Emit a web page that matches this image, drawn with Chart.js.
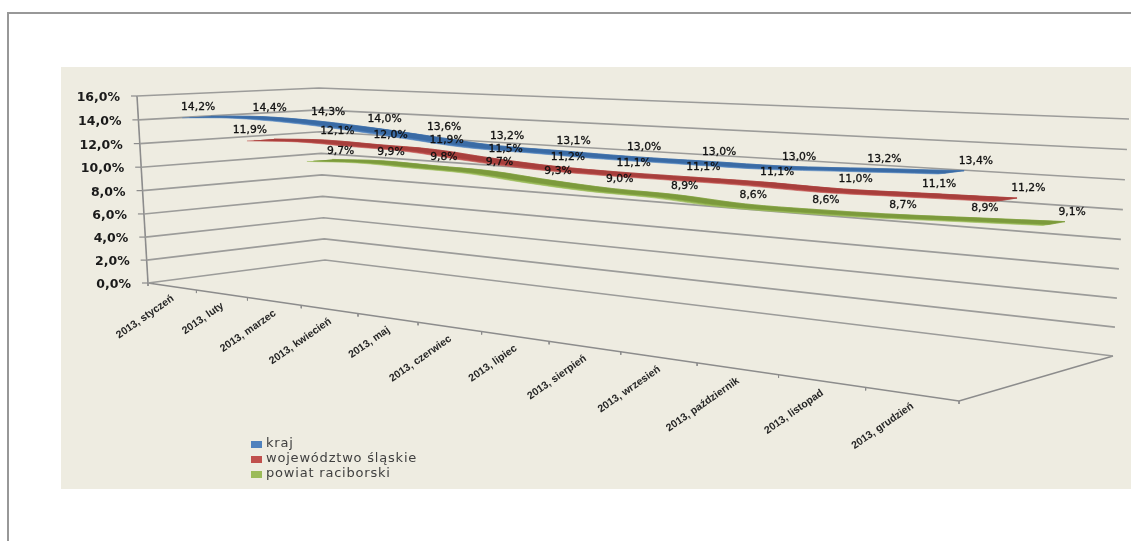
<!DOCTYPE html>
<html>
<head>
<meta charset="utf-8">
<script src="https://cdn.jsdelivr.net/npm/chart.js@4"></script>
<style>
    html, body { margin: 0; background: #fff; overflow: hidden; }
    #frame { position: absolute; left: 7px; top: 12px; right: 0; bottom: 0; border-top: 2px solid #989898; border-left: 2px solid #989898; }
    #panel { position: absolute; left: 61px; top: 67px; width: 1070px; height: 422px; background: #eeece1; }
    #chart { position: absolute; left: 0; top: 0; filter: blur(0.45px); }
</style>
</head>
<body>
<div id="frame"></div>
<div id="panel"></div>
<canvas id="chart" width="1131" height="541"></canvas>
<script>
    var categories = ["2013, styczeń", "2013, luty", "2013, marzec", "2013, kwiecień", "2013, maj", "2013, czerwiec",
        "2013, lipiec", "2013, sierpień", "2013, wrzesień", "2013, październik", "2013, listopad", "2013, grudzień"];
    var krajValues = [14.2, 14.4, 14.3, 14.0, 13.6, 13.2, 13.1, 13.0, 13.0, 13.0, 13.2, 13.4];
    var slaskieValues = [11.9, 12.1, 12.0, 11.9, 11.5, 11.2, 11.1, 11.1, 11.1, 11.0, 11.1, 11.2];
    var raciborskiValues = [9.7, 9.9, 9.8, 9.7, 9.3, 9.0, 8.9, 8.6, 8.6, 8.7, 8.9, 9.1];
    var seriesNames = ["kraj", "województwo śląskie", "powiat raciborski"];
    var yTicks = [0, 2, 4, 6, 8, 10, 12, 14, 16];
    var yTickLabels = ["0,0%", "2,0%", "4,0%", "6,0%", "8,0%", "10,0%", "12,0%", "14,0%", "16,0%"];

    var series = [
        { name: seriesNames[0], values: krajValues, depth: 0.10, light: "#4f81bd", dark: "#3a6ba5", labelDepth: 0.32 },
        { name: seriesNames[1], values: slaskieValues, depth: 0.437, light: "#c0504d", dark: "#a83f3c", labelDepth: 0.66 },
        { name: seriesNames[2], values: raciborskiValues, depth: 0.77, light: "#9bbb59", dark: "#7c9a3c", labelDepth: 0.97 }
    ];
    var ribbonWidth = 0.15;
    var labelNudge = { "0-0": -26, "0-1": -5, "1-0": -37 };

    // the 3d box of the excel chart, projected: floor corners + top of the left wall and back right corner
    var corner = { a: [148, 283], c: [959, 401], d: [1113, 356], b: [325, 260], top: [137, 96], topRight: [1129, 119] };

    var dx1 = corner.c[0] - corner.d[0], dx2 = corner.b[0] - corner.d[0], sx = corner.a[0] - corner.c[0] + corner.d[0] - corner.b[0];
    var dy1 = corner.c[1] - corner.d[1], dy2 = corner.b[1] - corner.d[1], sy = corner.a[1] - corner.c[1] + corner.d[1] - corner.b[1];
    var det = dx1 * dy2 - dx2 * dy1;
    var g = (sx * dy2 - dx2 * sy) / det, h = (dx1 * sy - sx * dy1) / det;
    var a1 = corner.c[0] * (1 + g) - corner.a[0], a2 = corner.b[0] * (1 + h) - corner.a[0], a4 = corner.a[0];
    var b1 = corner.c[1] * (1 + g) - corner.a[1], b2 = corner.b[1] * (1 + h) - corner.a[1], b4 = corner.a[1];
    var i3 = (a1 + a2 + a4 + corner.top[0] - corner.a[0] - corner.topRight[0] * (1 + g + h)) / (corner.topRight[0] - corner.top[0]);
    var a3 = corner.top[0] * (1 + i3) - corner.a[0], b3 = corner.top[1] * (1 + i3) - corner.a[1];

    function project(u, depth, value) {
        var v = value / 16;
        var w = g * u + h * depth + i3 * v + 1;
        return { x: (a1 * u + a2 * depth + a3 * v + a4) / w, y: (b1 * u + b2 * depth + b3 * v + b4) / w };
    }

    function lineSet(points, color, width) {
        return { data: points, showLine: true, fill: false, borderColor: color, borderWidth: width, pointRadius: 0, tension: 0, order: 10 };
    }

    function ribbonSet(values, d0, d1, color, order) {
        var n = values.length, front = [], back = [];
        values.forEach(function(val, k) {
            front.push(project((k + 0.5) / n, d0, val));
            back.push(project((k + 0.5) / n, d1, val));
        });
        back.reverse();
        // doubled end points keep the ends of the ribbon sharp
        var pts = front.concat([front[n - 1]], [back[0]], back, [back[n - 1]]);
        return { data: pts, showLine: true, fill: "shape", backgroundColor: color, borderColor: color, borderWidth: 0.6, pointRadius: 0, tension: 0.35, order: order };
    }

    var datasets = [];
    yTicks.forEach(function(t) {
        datasets.push(lineSet([project(0, 0, t), project(0, 1, t), project(1, 1, t)], "#9c9c9a", 1.6));
        var p = project(0, 0, t);
        datasets.push(lineSet([{ x: p.x - 6, y: p.y }, p], "#8c8c8c", 1.2));
    });
    datasets.push(lineSet([project(0, 0, 0), project(0, 0, 16)], "#8c8c8c", 1.6));
    datasets.push(lineSet([project(0, 0, 0), project(1, 0, 0), project(1, 1, 0)], "#8c8c8c", 1.6));
    for (var t = 0; t <= categories.length; t++) {
        var q = project(t / categories.length, 0, 0);
        datasets.push(lineSet([q, { x: q.x, y: q.y + 3 }], "#8c8c8c", 1));
    }
    series.forEach(function(s, k) {
        datasets.push(ribbonSet(s.values, s.depth, s.depth + ribbonWidth, s.light, 5 - k * 2));
        datasets.push(ribbonSet(s.values, s.depth + ribbonWidth * 0.25, s.depth + ribbonWidth, s.dark, 4 - k * 2));
    });

    var textPlugin = {
        id: "boxTexts",
        afterDatasetsDraw: function(chart) {
            var ctx = chart.ctx;
            var x = chart.scales.x, y = chart.scales.y;
            ctx.save();

            // value axis labels follow the slanted wall
            ctx.font = "bold 12.5px 'DejaVu Sans'";
            ctx.fillStyle = "#1a1a1a";
            ctx.textAlign = "right";
            ctx.textBaseline = "middle";
            yTicks.forEach(function(t, k) {
                var p = project(0, 0, t);
                ctx.fillText(yTickLabels[k], x.getPixelForValue(p.x) - 17, y.getPixelForValue(p.y) + 2);
            });

            // category labels along the front edge
            ctx.font = "bold 10.5px 'Liberation Sans'";
            ctx.fillStyle = "#262626";
            categories.forEach(function(c, k) {
                var p = project((k + 0.5) / categories.length, 0, 0);
                ctx.save();
                ctx.translate(x.getPixelForValue(p.x) + 1, y.getPixelForValue(p.y) + 11);
                ctx.rotate(-35 * Math.PI / 180);
                ctx.fillText(c, 0, 0);
                ctx.restore();
            });

            // data labels
            ctx.font = "10.8px 'DejaVu Sans'";
            ctx.fillStyle = "#111";
            ctx.strokeStyle = "#111";
            ctx.lineWidth = 0.3;
            ctx.textAlign = "center";
            series.forEach(function(s, si) {
                s.values.forEach(function(val, k) {
                    var p = project((k + 0.5) / s.values.length, s.labelDepth, val);
                    var nudge = labelNudge[si + "-" + k] || 0;
                    var txt = val.toFixed(1).replace(".", ",") + "%";
                    ctx.fillText(txt, x.getPixelForValue(p.x) + nudge, y.getPixelForValue(p.y) - 8);
                    ctx.strokeText(txt, x.getPixelForValue(p.x) + nudge, y.getPixelForValue(p.y) - 8);
                });
            });

            // legend
            ctx.font = "13px 'DejaVu Sans'";
            ctx.textAlign = "left";
            ctx.letterSpacing = "0.8px";
            series.forEach(function(s, k) {
                ctx.fillStyle = s.light;
                ctx.fillRect(251, 441 + k * 15, 11, 7);
                ctx.fillStyle = "#404040";
                ctx.fillText(s.name, 266, 444 + k * 15);
            });
            ctx.restore();
        }
    };

    var boxChart = new Chart(document.getElementById("chart").getContext("2d"), {
        type: "scatter",
        data: { datasets: datasets },
        options: {
            responsive: false,
            animation: false,
            layout: { padding: 0 },
            plugins: { legend: { display: false }, tooltip: { enabled: false } },
            scales: {
                x: { type: "linear", min: 0, max: 1131, display: false },
                y: { type: "linear", min: 0, max: 541, reverse: true, display: false }
            }
        },
        plugins: [textPlugin]
    });
</script>
</body>
</html>
